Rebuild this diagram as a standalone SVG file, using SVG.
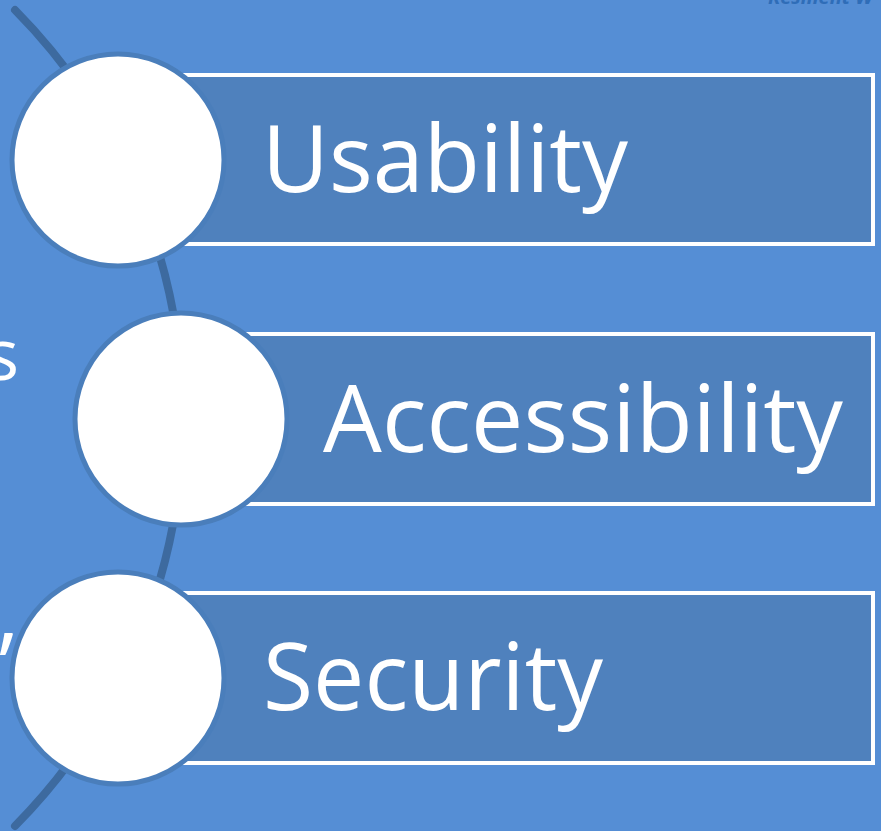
<svg xmlns="http://www.w3.org/2000/svg" width="881" height="831" viewBox="0 0 881 831">
<style>
.bar{fill:#4F81BD;stroke:#FFFFFF;stroke-width:4}
.dot{fill:#FFFFFF;stroke:#4A7EBB;stroke-width:5}
.lbl{font-family:"Open Sans","Liberation Sans",sans-serif;font-size:94px;fill:#FFFFFF}
.side{font-family:"Open Sans","Liberation Sans",sans-serif;fill:#FFFFFF}
</style>
<rect x="0" y="0" width="881" height="831" fill="#558ED5"/>
<text x="768" y="4" font-family="'Open Sans','Liberation Sans',sans-serif" font-size="20" font-weight="bold" font-style="italic" fill="#2F6DB8">Resilient W</text>
<text class="side" x="19" y="380" font-size="72" text-anchor="end">s</text>
<text class="side" x="14" y="697" font-size="90" text-anchor="end">’</text>
<g id="connectors">
<path d="M15,10 A580,580 0 0 1 15,826" fill="none" stroke="#3D6A9F" stroke-width="8" stroke-linecap="round"/>
</g>
<g id="usability">
<rect class="bar" x="120" y="75" width="753" height="169"/>
<circle class="dot" cx="118" cy="160" r="106"/>
<text class="lbl" x="262" y="192" textLength="366" lengthAdjust="spacingAndGlyphs">Usability</text>
</g>
<g id="accessibility">
<rect class="bar" x="181" y="334" width="692" height="170"/>
<circle class="dot" cx="181" cy="419" r="106"/>
<text class="lbl" x="323" y="452" textLength="520" lengthAdjust="spacingAndGlyphs">Accessibility</text>
</g>
<g id="security">
<rect class="bar" x="120" y="593" width="753" height="170"/>
<circle class="dot" cx="118" cy="678" r="106"/>
<text class="lbl" x="263" y="710" textLength="340" lengthAdjust="spacingAndGlyphs">Security</text>
</g>
</svg>
